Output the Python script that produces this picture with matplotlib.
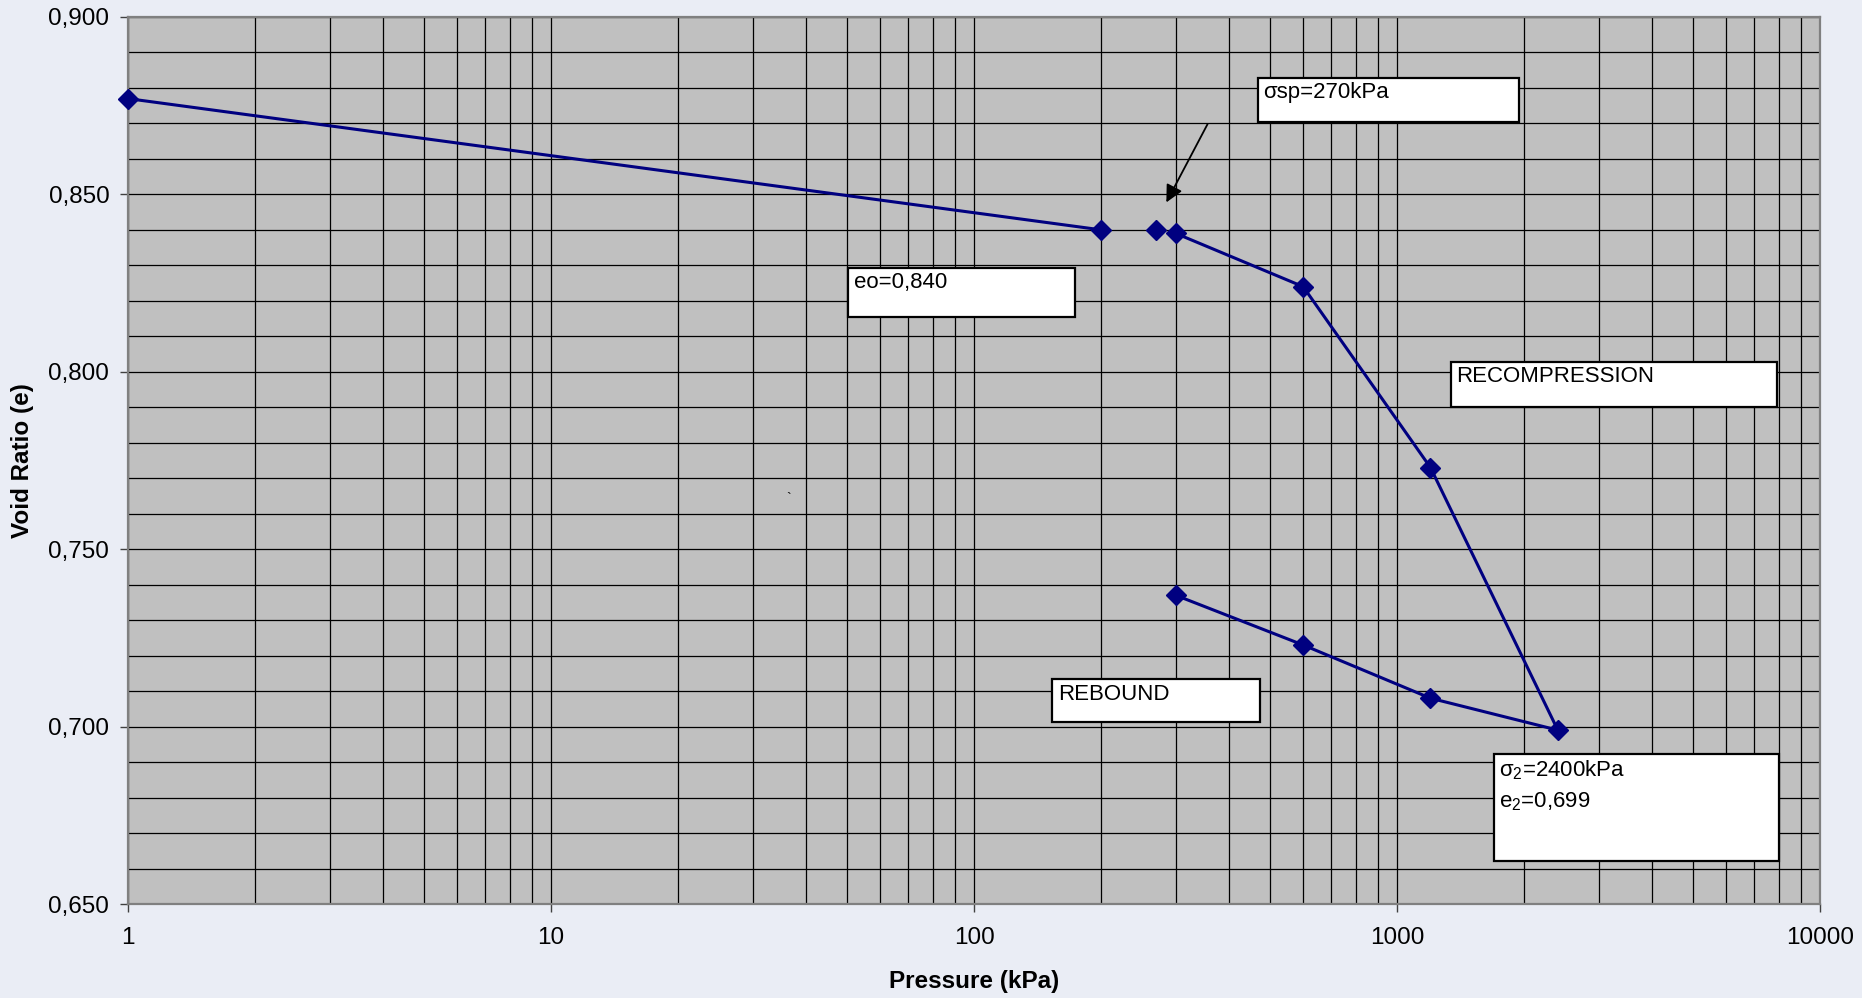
import matplotlib
matplotlib.use("Agg")
import matplotlib.pyplot as plt
from matplotlib.ticker import MultipleLocator, LogLocator, FuncFormatter, NullFormatter
from matplotlib.patches import Rectangle

plt.rcParams['font.family'] = ['Liberation Sans', 'DejaVu Sans']
plt.rcParams['mathtext.fontset'] = 'custom'
plt.rcParams['mathtext.rm'] = 'Liberation Sans'
plt.rcParams['mathtext.it'] = 'Liberation Sans:italic'

# Oedometer test data
pressure_initial = [1, 200]
void_initial = [0.877, 0.840]

pressure_preconsol = [270]
void_preconsol = [0.840]

pressure_loading = [300, 600, 1200, 2400, 1200, 600, 300]
void_loading = [0.839, 0.824, 0.773, 0.699, 0.708, 0.723, 0.737]

x_ticks = [1, 10, 100, 1000, 10000]
y_ticks = [0.650, 0.700, 0.750, 0.800, 0.850, 0.900]

FS_BOX = 16
FS_AX = 17.5
LINE = '#000080'

fig = plt.figure(figsize=(18.62, 9.98), dpi=100, facecolor='#EAEDF5')
ax = fig.add_axes([128 / 1862, 94 / 998, (1820 - 128) / 1862, (904 - 17) / 998])
ax.set_facecolor('#C0C0C0')

style = dict(color=LINE, lw=2.2, marker='D', ms=10, zorder=5, clip_on=False)
ax.plot(pressure_initial, void_initial, **style)
ax.plot(pressure_preconsol, void_preconsol, linestyle='none', **style)
ax.plot(pressure_loading, void_loading, **style)

ax.set_xscale('log')
ax.set_xlim(x_ticks[0], x_ticks[-1])
ax.set_ylim(y_ticks[0], y_ticks[-1])
ax.set_xticks(x_ticks)
ax.xaxis.set_major_formatter(FuncFormatter(lambda v, p: f"{v:.0f}"))
ax.xaxis.set_minor_locator(LogLocator(base=10, subs=range(2, 10)))
ax.xaxis.set_minor_formatter(NullFormatter())
ax.set_yticks(y_ticks)
ax.yaxis.set_major_formatter(FuncFormatter(lambda v, p: f"{v:.3f}".replace('.', ',')))
ax.yaxis.set_minor_locator(MultipleLocator(0.01))

ax.grid(which='both', color='black', lw=0.9, zorder=1)
ax.set_axisbelow(True)
ax.tick_params(which='major', direction='out', length=6, width=1, color='#404040',
               labelsize=FS_AX)
ax.tick_params(axis='x', which='major', pad=10.5)
ax.tick_params(axis='y', which='major', pad=7.5)
ax.tick_params(which='minor', length=0)
for s in ax.spines.values():
    s.set_color('#808080')
    s.set_linewidth(1.6)

ax.set_xlabel('Pressure (kPa)', fontsize=FS_AX, fontweight='bold', va='center')
ax.xaxis.set_label_coords(0.5, -0.0879)
ax.set_ylabel('Void Ratio (e)', fontsize=FS_AX, fontweight='bold', va='center')
ax.yaxis.set_label_coords(-0.0626, 0.5)


def note_box(x0, y0, x1, y1, lines):
    ax.add_patch(Rectangle((x0, y0), x1 - x0, y1 - y0, transform=ax.transAxes,
                           facecolor='white', edgecolor='black', lw=1.6, zorder=6,
                           clip_on=False))
    for i, t in enumerate(lines):
        ax.text(x0 + 0.0032, y1 - 0.005 - i * 0.036, t, transform=ax.transAxes,
                ha='left', va='top', fontsize=FS_BOX, zorder=7)


note_box(0.6676, 0.8820, 0.8219, 0.9316, ['σsp=270kPa'])
note_box(0.4257, 0.6622, 0.5596, 0.7172, ['eo=0,840'])
note_box(0.7819, 0.5603, 0.9748, 0.6113, ['RECOMPRESSION'])
note_box(0.5463, 0.2051, 0.6690, 0.2534, ['REBOUND'])
note_box(0.8072, 0.0483, 0.9755, 0.1689, ['σ$_2$=2400kPa', 'e$_2$=0,699'])

ax.annotate('', xy=(0.6129, 0.7882), xytext=(0.6388, 0.8820), xycoords='axes fraction',
            textcoords='axes fraction',
            arrowprops=dict(arrowstyle='-|>', color='black', lw=1.3, mutation_scale=26),
            zorder=7)

ax.text(0.3906, 0.457, '`', transform=ax.transAxes, fontsize=10, ha='center', va='center')

fig.savefig('out.png', dpi=100, facecolor=fig.get_facecolor())
